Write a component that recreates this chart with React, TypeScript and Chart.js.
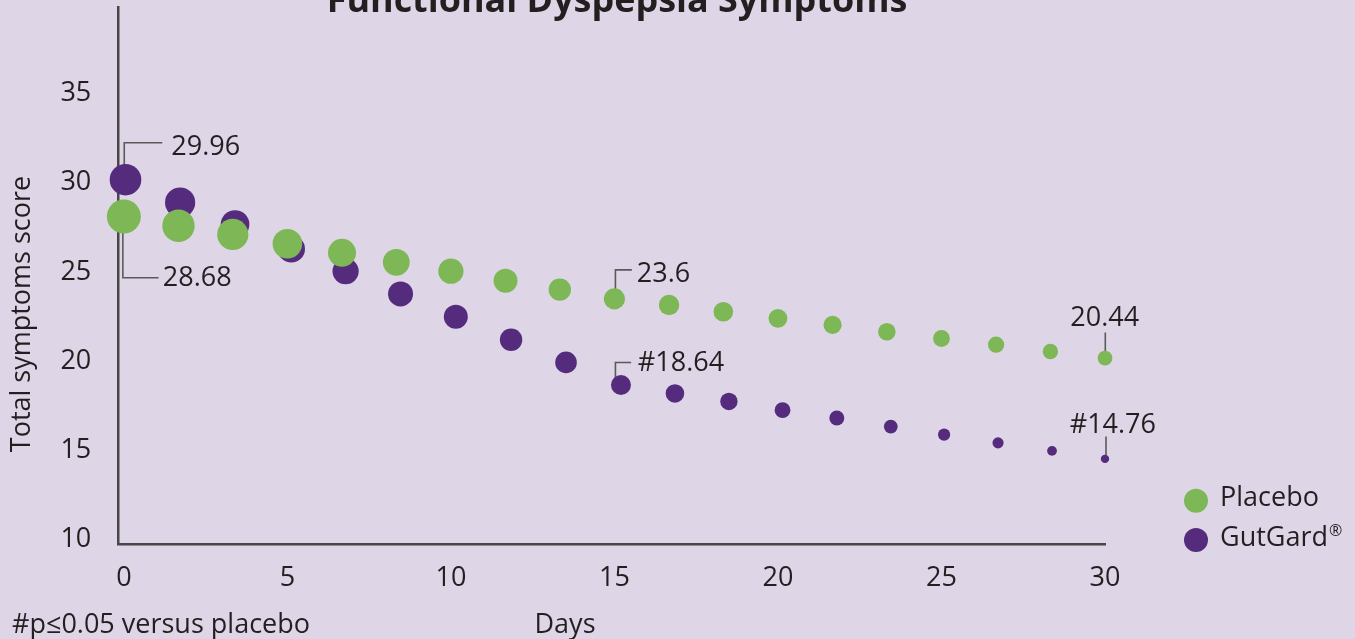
import React, { useEffect, useRef } from "react";
import { Chart, registerables } from "chart.js";
Chart.register(...registerables);

// ---- data ----
const TITLE = "Functional Dyspepsia Symptoms";
const Y_TITLE = "Total symptoms score";
const X_TITLE = "Days";
const FOOTNOTE = "#p\u22640.05 versus placebo";
const SERIES_NAMES = ["Placebo", "GutGard"];
const X_TICKS = [0, 5, 10, 15, 20, 25, 30];
const Y_TICKS = [10, 15, 20, 25, 30, 35];

const PLACEBO_DAYS = [0, 1.67, 3.33, 5, 6.67, 8.33, 10, 11.67, 13.33, 15, 16.67, 18.33, 20, 21.67, 23.33, 25, 26.67, 28.33, 30];
const PLACEBO = [28.11, 27.59, 27.1, 26.58, 26.07, 25.54, 25.04, 24.51, 24.01, 23.49, 23.15, 22.77, 22.4, 22.03, 21.65, 21.27, 20.92, 20.54, 20.17];
const GUTGARD_DAYS = [0.05, 1.72, 3.4, 5.12, 6.78, 8.46, 10.15, 11.84, 13.52, 15.2, 16.85, 18.5, 20.14, 21.8, 23.45, 25.08, 26.73, 28.38, 30.0];
const GUTGARD = [30.17, 28.89, 27.66, 26.29, 25.04, 23.77, 22.49, 21.2, 19.93, 18.66, 18.19, 17.74, 17.25, 16.81, 16.33, 15.88, 15.42, 14.97, 14.52];

const LABEL_TEXTS = ["29.96", "28.68", "23.6", "#18.64", "20.44", "#14.76"];
const LABEL_SERIES = [1, 0, 0, 1, 0, 1];
const LABEL_POINTS = [0, 0, 9, 9, 18, 18];

// ---- styles ----
const PLACEBO_RADII = [17, 16.2, 15.6, 14.8, 14, 13.4, 12.6, 12, 11.2, 10.6, 10.2, 9.8, 9.4, 9.1, 8.8, 8.4, 8.1, 7.7, 7.4];
const GUTGARD_RADII = [15.8, 15.1, 14.3, 13.7, 13.1, 12.5, 12, 11.2, 10.8, 10, 9.3, 8.7, 7.9, 7.5, 6.9, 6.1, 5.6, 4.9, 4.2];
const BG = "#ded6e6";
const GREEN = "#7db756";
const PURPLE = "#552c7d";
const INK = "#231f20";
const AXIS = "#474747";
const LEADER = "#5a5a5a";
const FONT = "'Open Sans', 'Noto Sans', sans-serif";
const FS = 27;
// leader layouts: dir (-1 up / +1 down), leg length, arm length, text x offset, text baseline offset, line x offset
const LABEL_LAYOUT = [
  { dir: -1, leg: 37, arm: 38, tx: 47, ty: 12.7, dx: 0.4 },
  { dir: 1, leg: 61.3, arm: 35.7, tx: 40, ty: 8.7, dx: -1 },
  { dir: -1, leg: 29, arm: 16.4, tx: 21.4, ty: 12.4, dx: 1 },
  { dir: -1, leg: 22.6, arm: 15.7, tx: 22.4, ty: 8.3, dx: 1 },
  { dir: -1, leg: 25.6, arm: 0, tx: -35, ty: -6.7, dx: 0.3 },
  { dir: -1, leg: 22.3, arm: 0, tx: -36.3, ty: -4, dx: 1 },
];

export default function App() {
  const ref = useRef<HTMLCanvasElement>(null);
  useEffect(() => {
    document.body.style.margin = "0";
    document.body.style.background = BG;
    const canvas = ref.current!;

    const decor = {
      id: "decor",
      beforeDraw(chart: any) {
        const ctx = chart.ctx;
        ctx.save();
        ctx.fillStyle = BG;
        ctx.fillRect(0, 0, chart.width, chart.height);
        ctx.restore();
      },
      beforeDatasetsDraw(chart: any) {
        const ctx = chart.ctx;
        const placeboMeta = chart.getDatasetMeta(0);
        ctx.save();
        ctx.strokeStyle = LEADER;
        ctx.lineWidth = 1.6;
        LABEL_TEXTS.forEach((_, i) => {
          const L = LABEL_LAYOUT[i];
          const pt = chart.getDatasetMeta(LABEL_SERIES[i]).data[LABEL_POINTS[i]];
          const lx = placeboMeta.data[LABEL_POINTS[i]].x + L.dx;
          const ey = pt.y + L.dir * L.leg;
          ctx.beginPath();
          ctx.moveTo(lx, pt.y);
          ctx.lineTo(lx, ey);
          if (L.arm) ctx.lineTo(lx + L.arm, ey);
          ctx.stroke();
        });
        ctx.restore();
      },
      afterDraw(chart: any) {
        const ctx = chart.ctx;
        const placeboMeta = chart.getDatasetMeta(0);
        ctx.save();
        ctx.fillStyle = INK;
        ctx.textBaseline = "alphabetic";
        ctx.textAlign = "left";
        ctx.font = `${FS}px ${FONT}`;
        // point labels
        LABEL_TEXTS.forEach((t, i) => {
          const L = LABEL_LAYOUT[i];
          const pt = chart.getDatasetMeta(LABEL_SERIES[i]).data[LABEL_POINTS[i]];
          const lx = placeboMeta.data[LABEL_POINTS[i]].x + L.dx;
          const ey = pt.y + L.dir * L.leg;
          ctx.fillText(t, lx + L.tx, ey + L.ty);
        });
        // title (cut at top)
        ctx.font = `bold 32px ${FONT}`;
        const w = ctx.measureText(TITLE).width;
        const ts = (32 * 581) / w;
        ctx.font = `bold ${ts}px ${FONT}`;
        ctx.textAlign = "center";
        ctx.fillText(TITLE, 617, 12);
        // axis titles
        ctx.font = `${FS}px ${FONT}`;
        ctx.fillText(X_TITLE, 565, 633);
        ctx.textAlign = "left";
        ctx.fillText(FOOTNOTE, 12, 633);
        ctx.save();
        ctx.translate(30, 314);
        ctx.rotate(-Math.PI / 2);
        ctx.textAlign = "center";
        ctx.fillText(Y_TITLE, 0, 0);
        ctx.restore();
        // legend
        const items = [
          { name: SERIES_NAMES[0], color: GREEN, cy: 500.7, base: 506 },
          { name: SERIES_NAMES[1], color: PURPLE, cy: 540, base: 546 },
        ];
        items.forEach((it, i) => {
          ctx.beginPath();
          ctx.fillStyle = it.color;
          ctx.arc(1196, it.cy, 12, 0, Math.PI * 2);
          ctx.fill();
          ctx.fillStyle = INK;
          ctx.font = `${FS}px ${FONT}`;
          ctx.textAlign = "left";
          ctx.fillText(it.name, 1220, it.base);
          if (i === 1) {
            const nw = ctx.measureText(it.name).width;
            ctx.font = `16px ${FONT}`;
            ctx.fillText("\u00AE", 1220 + nw + 1, it.base - 10);
          }
        });
        ctx.restore();
      },
    };

    const chart = new Chart(canvas, {
      type: "scatter",
      data: {
        datasets: [
          {
            label: SERIES_NAMES[0],
            data: PLACEBO_DAYS.map((x, i) => ({ x, y: PLACEBO[i] })),
            backgroundColor: GREEN,
            borderWidth: 0,
            pointRadius: PLACEBO_RADII,
            pointHoverRadius: PLACEBO_RADII,
            clip: false,
            order: 0,
          },
          {
            label: SERIES_NAMES[1],
            data: GUTGARD_DAYS.map((x, i) => ({ x, y: GUTGARD[i] })),
            backgroundColor: PURPLE,
            borderWidth: 0,
            pointRadius: GUTGARD_RADII,
            pointHoverRadius: GUTGARD_RADII,
            clip: false,
            order: 1,
          },
        ],
      } as any,
      options: {
        responsive: false,
        animation: false,
        devicePixelRatio: 1,
        events: [],
        layout: { autoPadding: false, padding: { top: 7, right: 250, bottom: 0, left: 0 } },
        plugins: { legend: { display: false }, tooltip: { enabled: false }, title: { display: false } },
        scales: {
          x: {
            type: "linear",
            min: -0.17,
            max: 30,
            afterBuildTicks: (s: any) => {
              s.ticks = X_TICKS.map((v) => ({ value: v }));
            },
            afterFit: (s: any) => {
              s.height = 95;
              s.paddingLeft = 0;
              s.paddingRight = 0;
            },
            grid: { display: false, drawTicks: false },
            border: { display: true, color: AXIS, width: 2.5 },
            ticks: { color: INK, font: { family: FONT, size: FS }, padding: 18, maxRotation: 0 },
          },
          y: {
            type: "linear",
            min: 9.75,
            max: 39.85,
            afterBuildTicks: (s: any) => {
              s.ticks = Y_TICKS.map((v) => ({ value: v }));
            },
            afterFit: (s: any) => {
              s.width = 118.3;
              s.paddingTop = 0;
              s.paddingBottom = 0;
            },
            grid: { display: false, drawTicks: false },
            border: { display: true, color: AXIS, width: 2.5 },
            ticks: { color: INK, font: { family: FONT, size: FS }, padding: 27 },
          },
        },
      } as any,
      plugins: [decor],
    });
    return () => chart.destroy();
  }, []);
  return (
    <div style={{ position: "absolute", left: 0, top: 0, width: 1355, height: 639, background: BG, overflow: "hidden" }}>
      <canvas ref={ref} width={1355} height={639} style={{ display: "block" }} />
    </div>
  );
}
